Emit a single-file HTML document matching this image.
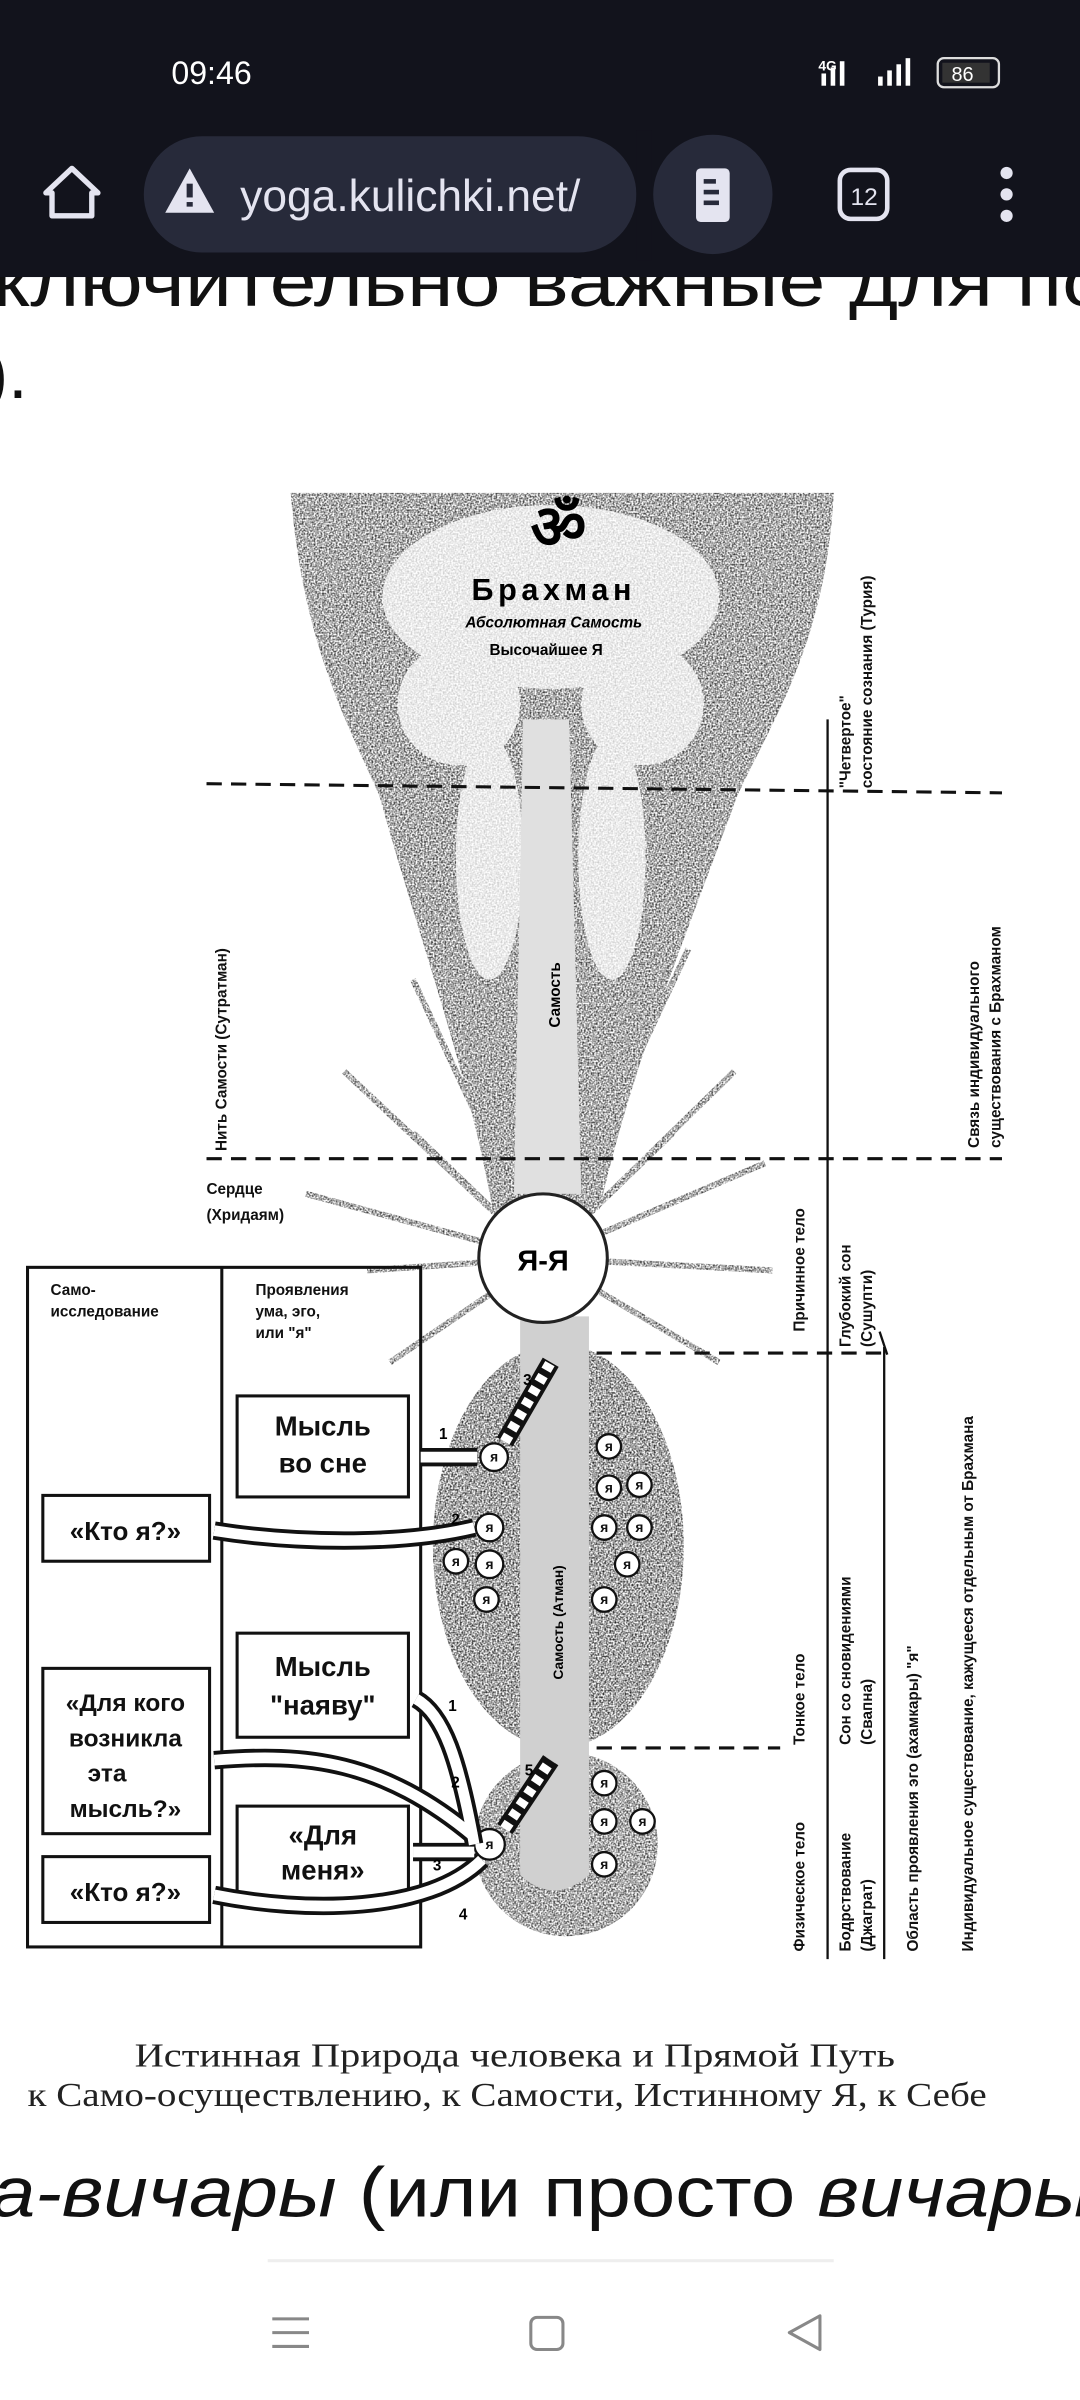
<!DOCTYPE html>
<html><head><meta charset="utf-8"><style>
html,body{margin:0;padding:0;background:#fff;width:1080px;height:2400px;overflow:hidden}
svg{display:block}
</style></head><body>
<svg width="1080" height="2400" viewBox="0 0 706 1568" preserveAspectRatio="none" xmlns="http://www.w3.org/2000/svg">
<defs>
<filter id="st" x="0" y="0" width="1" height="1"><feTurbulence type="fractalNoise" baseFrequency="0.9" numOctaves="1" result="n"/><feColorMatrix in="n" type="matrix" values="0 0 0 0 0  0 0 0 0 0  0 0 0 0 0  0 0 0 -2.2 1.5" result="m"/><feComposite in="SourceGraphic" in2="m" operator="in"/></filter>
</defs>
<rect width="706" height="1568" fill="#fff"/>
<text x="-5" y="200" font-family="Liberation Sans,sans-serif" font-size="46" fill="#111" textLength="730" lengthAdjust="spacingAndGlyphs">ключительно важные для по</text>
<text x="-10" y="260" font-family="Liberation Sans,sans-serif" font-size="46" fill="#111">).</text>
<rect width="706" height="181" fill="#12131c"/>
<text x="112" y="55" font-family="Liberation Sans,sans-serif" font-size="21" fill="#fff">09:46</text>
<text x="535" y="46" font-family="Liberation Sans,sans-serif" font-size="9" fill="#fff" font-weight="bold">4G</text>
<g fill="#fff"><rect x="537" y="48" width="3" height="8"/><rect x="543" y="44" width="3" height="12"/><rect x="549" y="40" width="3" height="16"/>
<rect x="574" y="50" width="3" height="6"/><rect x="580" y="46" width="3" height="10"/><rect x="586" y="42" width="3" height="14"/><rect x="592" y="38" width="3" height="18"/></g>
<rect x="613" y="38" width="40" height="19" rx="4" fill="none" stroke="#ddd" stroke-width="1.5"/><rect x="616" y="41" width="31" height="13" fill="#333"/>
<text x="622" y="53" font-family="Liberation Sans,sans-serif" font-size="13" fill="#fff">86</text>
<path d="M34,141 V126 H30 L47,110 L64,126 H60 V141 Z" fill="none" stroke="#e4e4f0" stroke-width="3.5" stroke-linejoin="round"/>
<rect x="94" y="89" width="322" height="76" rx="38" fill="#272a3a"/>
<path d="M108,139 L124,110 L140,139 Z" fill="#e4e4f0"/><rect x="122" y="120" width="4" height="9" fill="#272a3a"/><rect x="122" y="132" width="4" height="3" fill="#272a3a"/>
<text x="157" y="138" font-family="Liberation Sans,sans-serif" font-size="29" fill="#e4e4f0">yoga.kulichki.net/</text>
<rect x="416" y="85" width="10" height="85" fill="#12131c"/>
<ellipse cx="466" cy="127" rx="39" ry="39" fill="#272a3a"/>
<rect x="455" y="110" width="22" height="35" rx="3" fill="#e4e4f0"/><rect x="460" y="117" width="8" height="3" fill="#272a3a"/><rect x="460" y="124" width="10" height="3" fill="#272a3a"/><rect x="460" y="131" width="10" height="3" fill="#272a3a"/>
<rect x="549" y="111" width="31" height="32" rx="7" fill="none" stroke="#e4e4f0" stroke-width="3"/>
<text x="556" y="134" font-family="Liberation Sans,sans-serif" font-size="16" fill="#e4e4f0">12</text>
<circle cx="658" cy="113" r="4" fill="#e4e4f0"/><circle cx="658" cy="127" r="4" fill="#e4e4f0"/><circle cx="658" cy="141" r="4" fill="#e4e4f0"/>

<g filter="url(#st)">
<path d="M190,322 L545,322 C540,420 505,470 482,520 C445,620 412,700 392,790 L322,790 C306,700 276,620 248,520 C226,470 198,420 190,322 Z" fill="#333"/>
<g stroke="#333" stroke-width="4">
<line x1="355" y1="822" x2="225" y2="700"/><line x1="355" y1="822" x2="200" y2="780"/><line x1="355" y1="822" x2="240" y2="830"/><line x1="355" y1="822" x2="255" y2="890"/><line x1="355" y1="822" x2="270" y2="640"/>
<line x1="355" y1="822" x2="480" y2="700"/><line x1="355" y1="822" x2="500" y2="760"/><line x1="355" y1="822" x2="505" y2="830"/><line x1="355" y1="822" x2="470" y2="890"/><line x1="355" y1="822" x2="450" y2="620"/><line x1="355" y1="822" x2="270" y2="740"/><line x1="355" y1="822" x2="440" y2="740"/>
</g>
<ellipse cx="365" cy="1010" rx="82" ry="132" fill="#222"/>
<circle cx="370" cy="1205" r="60" fill="#333"/>
</g>
<!-- lighter cloud areas in funnel top -->
<g fill="#fff" opacity="0.75">
<ellipse cx="360" cy="390" rx="110" ry="60"/>
<ellipse cx="300" cy="460" rx="40" ry="40"/>
<ellipse cx="420" cy="460" rx="40" ry="40"/>
<ellipse cx="320" cy="560" rx="22" ry="80"/>
<ellipse cx="400" cy="560" rx="22" ry="80"/>
</g>
<path d="M342,470 L372,470 L380,780 L336,780 Z" fill="#e0e0e0"/>
<path d="M340,860 L385,860 L385,1225 Q362,1245 340,1225 Z" fill="#d0d0d0"/>
<circle cx="355" cy="822" r="42" fill="#fff" stroke="#222" stroke-width="2"/>
<text x="355" y="830" text-anchor="middle" font-family="Liberation Sans,sans-serif" font-size="19" font-weight="bold">Я-Я</text>
<g fill="#fff" stroke="#111" stroke-width="1.5">
<circle cx="323" cy="952" r="9"/><circle cx="320" cy="998" r="9"/><circle cx="320" cy="1022" r="9"/><circle cx="298" cy="1020" r="8"/><circle cx="318" cy="1045" r="8"/>
<circle cx="398" cy="945" r="8"/><circle cx="418" cy="970" r="8"/><circle cx="398" cy="972" r="8"/><circle cx="395" cy="998" r="8"/><circle cx="418" cy="998" r="8"/><circle cx="410" cy="1022" r="8"/><circle cx="395" cy="1045" r="8"/>
<circle cx="320" cy="1205" r="10"/><circle cx="395" cy="1165" r="8"/><circle cx="395" cy="1190" r="8"/><circle cx="420" cy="1190" r="8"/><circle cx="395" cy="1218" r="8"/>
</g>
<g font-family="Liberation Sans,sans-serif" font-size="9" font-weight="bold" text-anchor="middle" fill="#111">
<text x="323" y="955">я</text><text x="320" y="1001">я</text><text x="320" y="1025">я</text><text x="298" y="1023">я</text><text x="318" y="1048">я</text>
<text x="398" y="948">я</text><text x="418" y="973">я</text><text x="398" y="975">я</text><text x="395" y="1001">я</text><text x="418" y="1001">я</text><text x="410" y="1025">я</text><text x="395" y="1048">я</text>
<text x="320" y="1208">я</text><text x="395" y="1168">я</text><text x="395" y="1193">я</text><text x="420" y="1193">я</text><text x="395" y="1221">я</text>
</g>
<text x="365" y="358" text-anchor="middle" font-family="Liberation Serif,serif" font-size="40" font-weight="bold">ॐ</text>
<text x="362" y="392" text-anchor="middle" font-family="Liberation Sans,sans-serif" font-size="20" font-weight="bold" letter-spacing="3">Брахман</text>
<text x="362" y="410" text-anchor="middle" font-family="Liberation Sans,sans-serif" font-size="10" font-style="italic" font-weight="bold">Абсолютная Самость</text>
<text x="357" y="428" text-anchor="middle" font-family="Liberation Sans,sans-serif" font-size="10" font-weight="bold">Высочайшее Я</text>
<text transform="translate(366,650) rotate(-90)" text-anchor="middle" font-family="Liberation Sans,sans-serif" font-size="10" font-weight="bold">Самость</text>
<text transform="translate(368,1060) rotate(-90)" text-anchor="middle" font-family="Liberation Sans,sans-serif" font-size="9" font-weight="bold">Самость (Атман)</text>
<g stroke="#111" stroke-width="2" stroke-dasharray="10,6" fill="none">
<line x1="135" y1="512" x2="655" y2="518"/>
<line x1="135" y1="757" x2="655" y2="757"/>
<line x1="390" y1="884" x2="578" y2="884"/>
<line x1="390" y1="1142" x2="510" y2="1142"/>
</g>
<g stroke="#111" stroke-width="1.5">
<line x1="541" y1="470" x2="541" y2="1280"/>
<line x1="578" y1="880" x2="578" y2="1280"/>
<line x1="575" y1="870" x2="580" y2="885"/>
</g>
<g font-family="Liberation Sans,sans-serif" font-size="10" font-weight="bold" fill="#111">
<text transform="translate(556,515) rotate(-90)">"Четвертое"</text>
<text transform="translate(570,515) rotate(-90)">состояние сознания (Турия)</text>
<text transform="translate(148,752) rotate(-90)">Нить Самости (Сутратман)</text>
<text transform="translate(640,750) rotate(-90)">Связь индивидуального</text>
<text transform="translate(654,750) rotate(-90)">существования с Брахманом</text>
<text x="135" y="780">Сердце</text><text x="135" y="797">(Хридаям)</text>
<text transform="translate(526,870) rotate(-90)">Причинное тело</text>
<text transform="translate(556,880) rotate(-90)">Глубокий сон</text>
<text transform="translate(570,880) rotate(-90)">(Сушупти)</text>
<text transform="translate(526,1140) rotate(-90)">Тонкое тело</text>
<text transform="translate(556,1140) rotate(-90)">Сон со сновидениями</text>
<text transform="translate(570,1140) rotate(-90)">(Свапна)</text>
<text transform="translate(526,1275) rotate(-90)">Физическое тело</text>
<text transform="translate(556,1275) rotate(-90)">Бодрствование</text>
<text transform="translate(570,1275) rotate(-90)">(Джаграт)</text>
<text transform="translate(600,1275) rotate(-90)">Область проявления эго (ахамкары) "я"</text>
<text transform="translate(636,1275) rotate(-90)">Индивидуальное существование, кажущееся отдельным от Брахмана</text>
</g>
<g fill="none" stroke="#111" stroke-width="2">
<rect x="18" y="828" width="257" height="444"/>
<line x1="145" y1="828" x2="145" y2="1272"/>
<rect x="155" y="912" width="112" height="66"/>
<rect x="28" y="977" width="109" height="43"/>
<rect x="155" y="1067" width="112" height="68"/>
<rect x="28" y="1090" width="109" height="108"/>
<rect x="155" y="1180" width="112" height="63"/>
<rect x="28" y="1213" width="109" height="43"/>
</g>
<g font-family="Liberation Sans,sans-serif" font-weight="bold" fill="#111">
<text x="33" y="846" font-size="10">Само-</text><text x="33" y="860" font-size="10">исследование</text>
<text x="167" y="846" font-size="10">Проявления</text><text x="167" y="860" font-size="10">ума, эго,</text><text x="167" y="874" font-size="10">или "я"</text>
<text x="211" y="938" font-size="18" text-anchor="middle">Мысль</text><text x="211" y="962" font-size="18" text-anchor="middle">во сне</text>
<text x="82" y="1006" font-size="17" text-anchor="middle">«Кто я?»</text>
<text x="211" y="1095" font-size="18" text-anchor="middle">Мысль</text><text x="211" y="1120" font-size="18" text-anchor="middle">"наяву"</text>
<text x="82" y="1118" font-size="16" text-anchor="middle">«Для кого</text><text x="82" y="1141" font-size="16" text-anchor="middle">возникла</text><text x="70" y="1164" font-size="16" text-anchor="middle">эта</text><text x="82" y="1187" font-size="16" text-anchor="middle">мысль?»</text>
<text x="211" y="1205" font-size="18" text-anchor="middle">«Для</text><text x="211" y="1228" font-size="18" text-anchor="middle">меня»</text>
<text x="82" y="1242" font-size="17" text-anchor="middle">«Кто я?»</text>
</g>
<g fill="none" stroke-linecap="butt">
<g stroke="#111" stroke-width="12">
<path d="M312,952 L275,952"/><path d="M310,998 C260,1010 190,1008 140,1000"/>
<path d="M310,1205 C300,1150 290,1120 272,1110"/><path d="M310,1200 C250,1150 200,1145 140,1150"/>
<path d="M310,1210 L270,1210"/><path d="M315,1215 C280,1250 200,1250 140,1238"/>
<path d="M330,942 L360,890"/><path d="M330,1195 L360,1150"/>
</g>
<g stroke="#fff" stroke-width="7">
<path d="M312,952 L275,952"/><path d="M310,998 C260,1010 190,1008 140,1000"/>
<path d="M310,1205 C300,1150 290,1120 272,1110"/><path d="M310,1200 C250,1150 200,1145 140,1150"/>
<path d="M310,1210 L270,1210"/><path d="M315,1215 C280,1250 200,1250 140,1238"/>
<path d="M330,942 L360,890" stroke-dasharray="5,4"/><path d="M330,1195 L360,1150" stroke-dasharray="5,4"/>
</g></g>
<g font-family="Liberation Sans,sans-serif" font-size="10" font-weight="bold">
<text x="287" y="940">1</text><text x="295" y="996">2</text><text x="342" y="905">3</text>
<text x="293" y="1118">1</text><text x="295" y="1168">2</text><text x="283" y="1222">3</text><text x="300" y="1254">4</text><text x="343" y="1160">5</text>
</g>
<text x="88" y="1350" font-family="Liberation Serif,serif" font-size="22" fill="#222" textLength="497" lengthAdjust="spacingAndGlyphs">Истинная Природа человека и Прямой Путь</text>
<text x="18" y="1376" font-family="Liberation Serif,serif" font-size="22" fill="#222" textLength="627" lengthAdjust="spacingAndGlyphs">к Само-осуществлению, к Самости, Истинному Я, к Себе</text>
<text x="-6" y="1448" font-family="Liberation Sans,sans-serif" font-size="46" fill="#111" textLength="720" lengthAdjust="spacingAndGlyphs"><tspan font-style="italic">а-вичары</tspan> (или просто <tspan font-style="italic">вичары</tspan></text>
<rect x="175" y="1476" width="370" height="2" fill="#eee"/>
<g stroke="#888" stroke-width="2" fill="none">
<line x1="178" y1="1515" x2="202" y2="1515"/><line x1="178" y1="1524" x2="202" y2="1524"/><line x1="178" y1="1533" x2="202" y2="1533"/>
<rect x="347" y="1514" width="21" height="21" rx="4"/>
<path d="M536,1513 L516,1524 L536,1535 Z" stroke-linejoin="round"/>
</g>
</svg>
</body></html>
